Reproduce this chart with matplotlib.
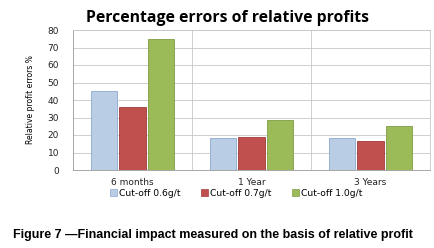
import numpy as np
import matplotlib
matplotlib.use('Agg')
import matplotlib.pyplot as plt
from matplotlib.patches import Patch

categories = ['6 months', '1 Year', '3 Years']
series_names = ['Cut-off 0.6g/t', 'Cut-off 0.7g/t', 'Cut-off 1.0g/t']
cut_06 = [45.3, 18.1, 18.5]
cut_07 = [35.8, 19.0, 16.8]
cut_10 = [74.7, 28.6, 25.3]
yticks = [0, 10, 20, 30, 40, 50, 60, 70, 80]

colors = ['#b9cde5', '#c0504d', '#9bbb59']
edges = ['#8eaad0', '#a03c39', '#7f9c45']

fig = plt.figure(figsize=(4.34, 2.48), dpi=100)
# axes: x 73..430, y 30..170 (pixels)
ax = fig.add_axes([73/434, 1-170/248, (430-73)/434, 140/248])

x = np.arange(len(categories))
w = 0.22
step = 0.24
for i, vals in enumerate([cut_06, cut_07, cut_10]):
    ax.bar(x + (i-1)*step, vals, width=w, color=colors[i], edgecolor=edges[i],
           linewidth=0.6, zorder=3)

ax.set_xlim(-0.5, 2.5)
ax.set_ylim(0, 80)
ax.set_yticks(yticks)
ax.set_xticks(x)
ax.set_xticklabels(categories)
ax.tick_params(axis='both', length=0, labelsize=6.5, colors='#222222', pad=6)
ax.tick_params(axis='y', pad=10)
ax.grid(axis='y', color='#c8c8c8', linewidth=0.6, zorder=0)
for b in [0.5, 1.5]:
    ax.axvline(b, color='#c8c8c8', linewidth=0.6, zorder=0)
for s in ['top', 'right']:
    ax.spines[s].set_color('#c8c8c8')
    ax.spines[s].set_linewidth(0.6)
ax.spines['left'].set_color('#999999')
ax.spines['bottom'].set_color('#999999')
ax.spines['left'].set_linewidth(0.6)
ax.spines['bottom'].set_linewidth(0.6)

ax.set_ylabel('Relative profit errors %', fontsize=5.5, labelpad=9)

fig.text(227/434, 1-18/248, 'Percentage errors of relative profits',
         ha='center', va='center', fontsize=11.3, fontweight='bold', family='Open Sans')

handles = [Patch(facecolor=colors[i], edgecolor=edges[i], linewidth=0.5) for i in range(3)]
fig.legend(handles, series_names, loc='center', bbox_to_anchor=(236/434, 1-193/248),
           ncol=3, frameon=False, fontsize=6.6, handlelength=0.8, handleheight=0.8,
           handletextpad=0.2, columnspacing=2.2)

fig.text(13/434, 1-235/248, 'Figure 7 \u2014Financial impact measured on the basis of relative profit',
         ha='left', va='center', fontsize=9, fontweight='bold', family='Liberation Sans')

fig.savefig('out.png', dpi=100)
